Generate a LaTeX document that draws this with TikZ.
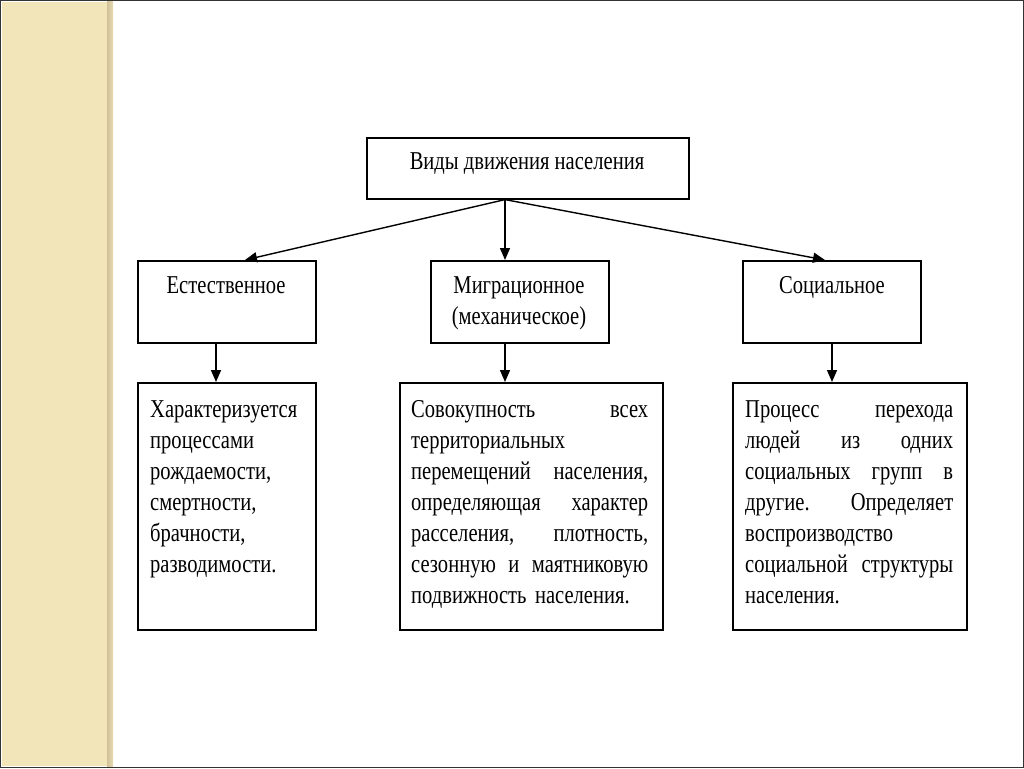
\documentclass[tikz,border=0pt]{standalone}
\usepackage{fontspec}
\setmainfont[FakeStretch=0.8]{Liberation Serif}
\usetikzlibrary{arrows.meta,calc}
\definecolor{beige}{RGB}{243,229,186}
\definecolor{beigeshadow}{RGB}{208,193,152}
\begin{document}
\begin{tikzpicture}[x=1pt,y=-1pt,
  boxn/.style={draw=black,line width=1.6pt,inner sep=0pt,anchor=north west,rectangle},
  lbl/.style={inner sep=0pt,font=\fontsize{25.7}{31}\selectfont},
  body/.style={inner sep=0pt,font=\fontsize{25.7}{31}\selectfont,align=left,anchor=base west},
  arr/.style={line width=1.4pt,-{Triangle[length=12pt,width=10pt]}}]
\useasboundingbox (0,0) rectangle (1024,768);
\fill[white] (0,0) rectangle (1024,768);
% left decorative stripe
\fill[beige] (2,2) rectangle (108,766);
\shade[left color=beigeshadow,right color=beige!70!beigeshadow] (107,2) rectangle (113,766);
\draw[line width=1.2pt,black!80] (0.6,0.6) rectangle (1023.4,767.4);
% boxes
\node[boxn,minimum width=322pt,minimum height=61pt] (top) at (366,137) {};
\node[boxn,minimum width=178pt,minimum height=82pt] (est) at (137,260) {};
\node[boxn,minimum width=178pt,minimum height=82pt] (mig) at (430,260) {};
\node[boxn,minimum width=178pt,minimum height=82pt] (soc) at (742,260) {};
\node[boxn,minimum width=178pt,minimum height=247pt] (b1) at (137,382) {};
\node[boxn,minimum width=263pt,minimum height=247pt] (b2) at (399,382) {};
\node[boxn,minimum width=234pt,minimum height=247pt] (b3) at (732,382) {};
% labels
\node[lbl,anchor=base] (topt) at (527,169) {Виды движения населения};
\node[lbl,anchor=base] (estt) at (226,293) {Естественное};
\node[lbl,anchor=base,align=center] (migt) at (519,324) {Миграционное\\(механическое)};
\node[lbl,anchor=base] (soct) at (832,293) {Социальное};
\node[body,text width=160pt] (b1t) at (150,417) {Характеризуется\\ процессами\\ рождаемости,\\ смертности,\\ брачности,\\ разводимости.};
\node[body,text width=237pt] (b2t) at (411,417) {Совокупность\hfill всех\\ территориальных\\ перемещений\hfill населения,\\ определяющая\hfill характер\\ расселения,\hfill плотность,\\ сезонную\hfill и\hfill маятниковую\\ подвижность населения.};
\node[body,text width=208pt] (b3t) at (745,417) {Процесс\hfill перехода\\ людей\hfill из\hfill одних\\ социальных\hfill групп\hfill в\\ другие.\hfill Определяет\\ воспроизводство\\ социальной\hfill структуры\\ населения.};
% connectors
\coordinate (o) at ($(top.south west)+(139,0)$);
\draw[arr] (o) -- ($(est.north west)+(108,0)$);
\draw[arr] (o) -- (mig.north -| o);
\draw[arr] (o) -- ($(soc.north west)+(83,0)$);
\draw[arr] ($(est.south west)+(79,0)$) coordinate (l1) -- (b1.north -| l1);
\draw[arr] (mig.south -| o) -- (b2.north -| o);
\draw[arr] ($(soc.south west)+(90,0)$) coordinate (r1) -- (b3.north -| r1);
\end{tikzpicture}
\end{document}
